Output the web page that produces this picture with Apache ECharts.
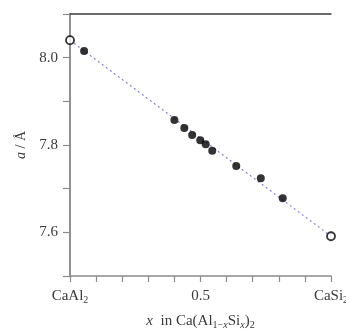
<!DOCTYPE html>
<html>
<head>
<meta charset="utf-8">
<script src="https://cdn.jsdelivr.net/npm/echarts@6/dist/echarts.min.js"></script>
<style>html,body{margin:0;padding:0;background:#fff}#c{width:346px;height:329px}</style>
</head>
<body>
<div id="c"></div>
<script>
// Measured samples (filled circles)
var sampleX = [0.054, 0.400, 0.438, 0.468, 0.499, 0.520, 0.545, 0.637, 0.731, 0.815];
var sampleA = [8.015, 7.857, 7.839, 7.823, 7.811, 7.802, 7.787, 7.752, 7.724, 7.678];
// End members (open circles)
var endX = [0, 1];
var endA = [8.040, 7.591];
// Tick labels
var yTickLabels = ['7.6', '7.8', '8.0'];
var xTickLabels = {0: '{n|CaAl}{s|2}', 0.5: '{n|0.5}', 1: '{n|CaSi}{s|2}'};

var serif = '"Liberation Serif", "DejaVu Serif", serif';
var txt = '#3a3a3a';
var subStyle = {fontFamily: serif, fontSize: 10, color: txt, lineHeight: 10, verticalAlign: 'bottom'};
var chart = echarts.init(document.getElementById('c'));
chart.setOption({
  animation: false,
  grid: {left: 70, right: 15, top: 14, bottom: 53, show: false, outerBoundsMode: 'none', containLabel: false},
  xAxis: [{
    type: 'value', min: 0, max: 1, interval: 0.1,
    axisLine: {show: true, lineStyle: {color: '#8a8a8a', width: 1.5}},
    axisTick: {show: true, length: 6, lineStyle: {color: '#8a8a8a', width: 1.2}},
    splitLine: {show: false},
    axisLabel: {
      margin: 11,
      formatter: function (v) {
        var k = Math.round(v * 10) / 10;
        return xTickLabels[k] || '';
      },
      rich: {
        n: {fontFamily: serif, fontSize: 15, color: txt, lineHeight: 18},
        s: subStyle
      }
    },
    name: '{i|x}{n|  in Ca(Al}{s|1−}{si|x}{n|Si}{si|x}{n|)}{s|2}',
    nameLocation: 'middle', nameGap: 36,
    nameTextStyle: {
      rich: {
        n: {fontFamily: serif, fontSize: 15, color: txt, lineHeight: 18},
        i: {fontFamily: serif, fontSize: 15, color: txt, fontStyle: 'italic', lineHeight: 18},
        s: subStyle,
        si: Object.assign({}, subStyle, {fontStyle: 'italic'})
      }
    }
  }, {
    type: 'value', min: 0, max: 1, position: 'top',
    axisLine: {show: true, lineStyle: {color: '#3a3a3a', width: 1.5}},
    axisTick: {show: false}, axisLabel: {show: false}, splitLine: {show: false}
  }],
  yAxis: [{
    type: 'value', min: 7.5, max: 8.1, interval: 0.1,
    axisLine: {show: true, lineStyle: {color: '#8a8a8a', width: 1.5}},
    axisTick: {show: true, length: 7, lineStyle: {color: '#8a8a8a', width: 1.2}},
    splitLine: {show: false},
    axisLabel: {
      margin: 12, fontFamily: serif, fontSize: 15, color: txt,
      formatter: function (v) {
        var s = v.toFixed(1);
        return yTickLabels.indexOf(s) >= 0 ? s : '';
      }
    },
    name: '{i|a}{n| / Å}',
    nameLocation: 'middle', nameGap: 40,
    nameTextStyle: {
      rich: {
        n: {fontFamily: serif, fontSize: 14, color: txt},
        i: {fontFamily: serif, fontSize: 14, color: txt, fontStyle: 'italic'}
      }
    }
  }, {
    type: 'value', min: 7.5, max: 8.1, position: 'right',
    axisLine: {show: true, lineStyle: {color: '#8a8a8a', width: 1.5}},
    axisTick: {show: false}, axisLabel: {show: false}, splitLine: {show: false}
  }],
  series: [{
    type: 'line',
    data: endX.map(function (x, i) { return [x, endA[i]]; }),
    symbol: 'none',
    lineStyle: {color: '#8080e0', width: 1.2, type: [2, 3]},
    z: 1
  }, {
    type: 'scatter',
    data: sampleX.map(function (x, i) { return [x, sampleA[i]]; }),
    symbol: 'circle', symbolSize: 8,
    itemStyle: {color: '#000'},
    z: 3
  }, {
    type: 'scatter',
    data: endX.map(function (x, i) { return [x, endA[i]]; }),
    symbol: 'circle', symbolSize: 8,
    itemStyle: {color: '#fff', borderColor: '#000', borderWidth: 1.8},
    clip: false,
    z: 4
  }]
});
</script>
</body>
</html>
